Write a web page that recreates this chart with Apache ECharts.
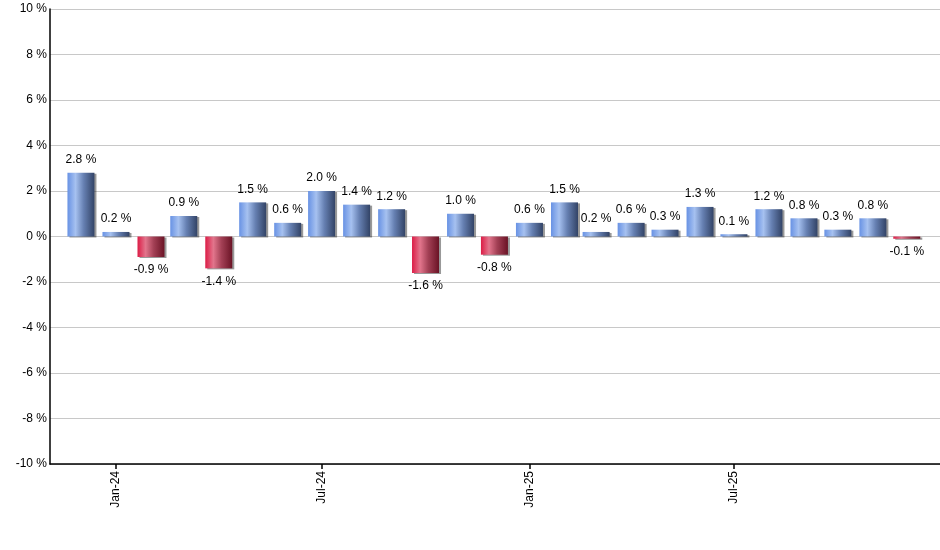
<!DOCTYPE html>
<html>
<head>
<meta charset="utf-8">
<script src="https://cdn.jsdelivr.net/npm/echarts@6/dist/echarts.min.js"></script>
<style>html,body{margin:0;padding:0;background:#fff}#c{width:940px;height:550px}</style>
</head>
<body>
<div id="c"></div>
<script>
const months = ['2023-12','2024-01','2024-02','2024-03','2024-04','2024-05','2024-06','2024-07','2024-08','2024-09','2024-10','2024-11','2024-12',
  '2025-01','2025-02','2025-03','2025-04','2025-05','2025-06','2025-07','2025-08','2025-09','2025-10','2025-11','2025-12'];
const values = [2.8,0.2,-0.9,0.9,-1.4,1.5,0.6,2.0,1.4,1.2,-1.6,1.0,-0.8,0.6,1.5,0.2,0.6,0.3,1.3,0.1,1.2,0.8,0.3,0.8,-0.1];
const tickMonths = ['2024-01','2024-07','2025-01','2025-07'];
const monthNames = ['Jan','Feb','Mar','Apr','May','Jun','Jul','Aug','Sep','Oct','Nov','Dec'];

const DAY = 86400000;
const EPOCH = Date.UTC(2024,0,1);
// day number relative to 1 Jan 2024
function dayOf(m){ const p=m.split('-'); return (Date.UTC(+p[0], +p[1]-1, 1)-EPOCH)/DAY; }
const xMin = -58.4;
const xMax = xMin + 787.8;

const blue = new echarts.graphic.LinearGradient(0,0,1,0,[
  {offset:0,color:'#6892e4'},{offset:0.3,color:'#a6c1f0'},{offset:0.6,color:'#6680b2'},{offset:1,color:'#324366'}]);
const red = new echarts.graphic.LinearGradient(0,0,1,0,[
  {offset:0,color:'#dc1c46'},{offset:0.3,color:'#e2758c'},{offset:0.6,color:'#a34055'},{offset:1,color:'#6a1325'}]);

const FONT = 'Liberation Sans, Arial, sans-serif';
const chart = echarts.init(document.getElementById('c'), null, {renderer:'canvas'});
chart.setOption({
  animation:false,
  grid:{left:50,right:0,top:9,bottom:86,containLabel:false},
  xAxis:{
    type:'value', min:xMin, max:xMax,
    axisLine:{onZero:false,lineStyle:{color:'#000',width:1.5}},
    axisTick:{show:true,length:5,customValues:tickMonths.map(dayOf),lineStyle:{color:'#000',width:1.5}},
    axisLabel:{show:true,rotate:90,margin:7,customValues:tickMonths.map(dayOf),
      fontFamily:FONT,fontSize:12,color:'#000',
      formatter:function(v){const d=new Date(EPOCH+Math.round(v)*DAY);return monthNames[d.getUTCMonth()]+'-'+String(d.getUTCFullYear()).slice(2);}},
    splitLine:{show:false}
  },
  yAxis:{
    type:'value', min:-10, max:10, interval:2,
    axisLine:{show:true,onZero:false,lineStyle:{color:'#000',width:1.5}},
    axisTick:{show:false},
    axisLabel:{margin:3,fontFamily:FONT,fontSize:12,color:'#000',
      formatter:function(v){return v+' %';}},
    splitLine:{show:true,lineStyle:{color:'#c8c8c8',width:1}}
  },
  series:[{
    type:'bar',
    barWidth:27,
    data:months.map(function(m,i){
      const v=values[i];
      return {value:[dayOf(m),v],
        itemStyle:{color:v<0?red:blue},
        label:{position:v<0?'bottom':'top'}};
    }),
    itemStyle:{shadowColor:'rgba(0,0,0,0.4)',shadowOffsetX:2,shadowOffsetY:1,shadowBlur:0},
    label:{show:true,distance:7,fontFamily:FONT,fontSize:12,color:'#000',
      formatter:function(p){return p.value[1].toFixed(1)+' %';}}
  }]
});
</script>
</body>
</html>
